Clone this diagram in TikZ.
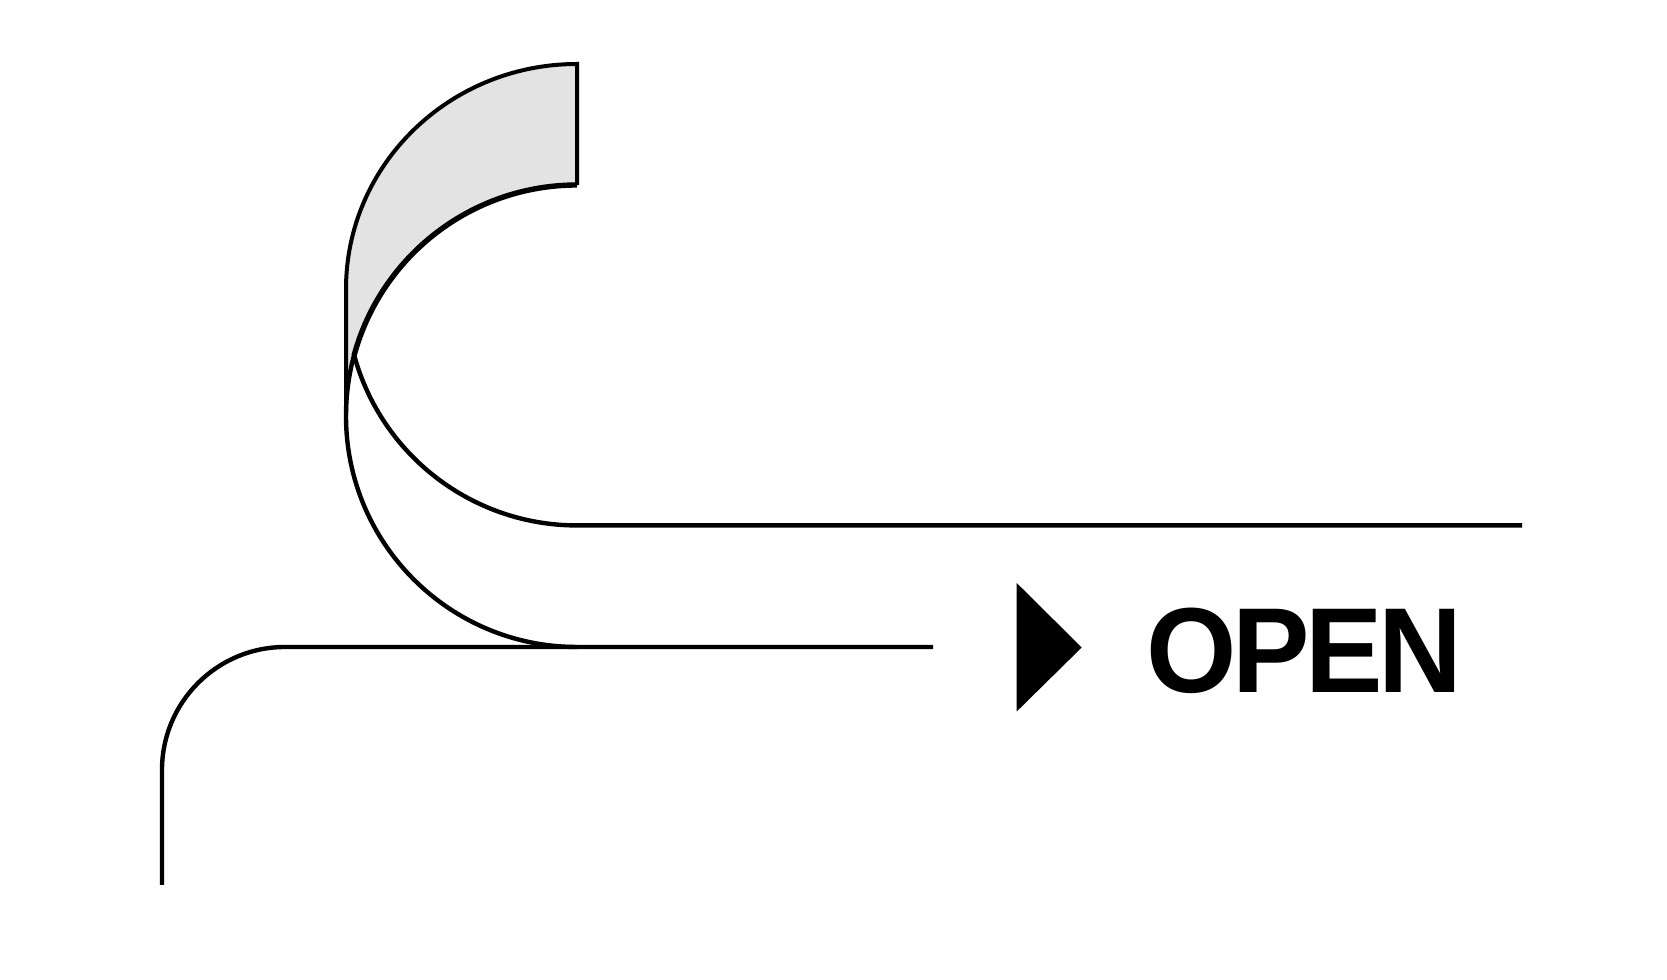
\documentclass[tikz,border=0pt]{standalone}
\usepackage{fontspec}
\newfontfamily\openfont{Liberation Sans}[LetterSpace=-3.8]
\definecolor{bandgray}{HTML}{E3E3E3}
\begin{document}
\begin{tikzpicture}[x=0.5pt,y=0.5pt,
  outerline/.style={line width=2pt,black,line join=miter},
  thinline/.style={line width=2.2pt,black,line join=miter},
  thickline/.style={line width=2.7pt,black},
  openlabel/.style={inner sep=0pt,outer sep=0pt,font=\openfont\bfseries\fontsize{60.5pt}{61pt}\selectfont,text=black}]
\useasboundingbox[fill=white] (0,0) rectangle (1667,980);
\def\R{231}
\coordinate (topR) at (577,916);
\coordinate (leftB) at (346,564);
\coordinate (innerTop) at (577,795);
\coordinate (cusp) at (354.1,625);
\coordinate (lineTwoMid) at (577,333);
\coordinate (lowStart) at (285,333);
\coordinate (lowEnd) at (162,95);
% shaded band
\fill[bandgray] (topR) arc[start angle=90,end angle=180,x radius=\R,y radius=225] -- (leftB)
  arc[start angle=180,end angle=90,radius=\R] -- cycle;
% outer outline
\draw[outerline] (innerTop) -- (topR) arc[start angle=90,end angle=180,x radius=\R,y radius=225] -- (leftB);
% lower sweep
\draw[thinline] (leftB) arc[start angle=180,end angle=270,radius=\R] -- ++(356,0);
% inner arcs
\draw[thickline] (innerTop) arc[start angle=90,end angle=164.8,radius=\R];
\draw[thinline] (cusp) arc[start angle=164.8,end angle=180,radius=\R];
\draw[thinline] (cusp) arc[start angle=195.2,end angle=270,radius=\R] -- ++(945,0);
% low line
\draw[thinline] (lineTwoMid) -- (lowStart) arc[start angle=90,end angle=180,radius=123] -- (lowEnd);
% arrow and label
\fill[black] (1016.7,397) -- (1081.7,332.5) -- (1016.7,268.5) -- cycle;
\node[openlabel,anchor=base west,xscale=0.96] (open) at (1146,287) {OPEN};
\end{tikzpicture}
\end{document}
